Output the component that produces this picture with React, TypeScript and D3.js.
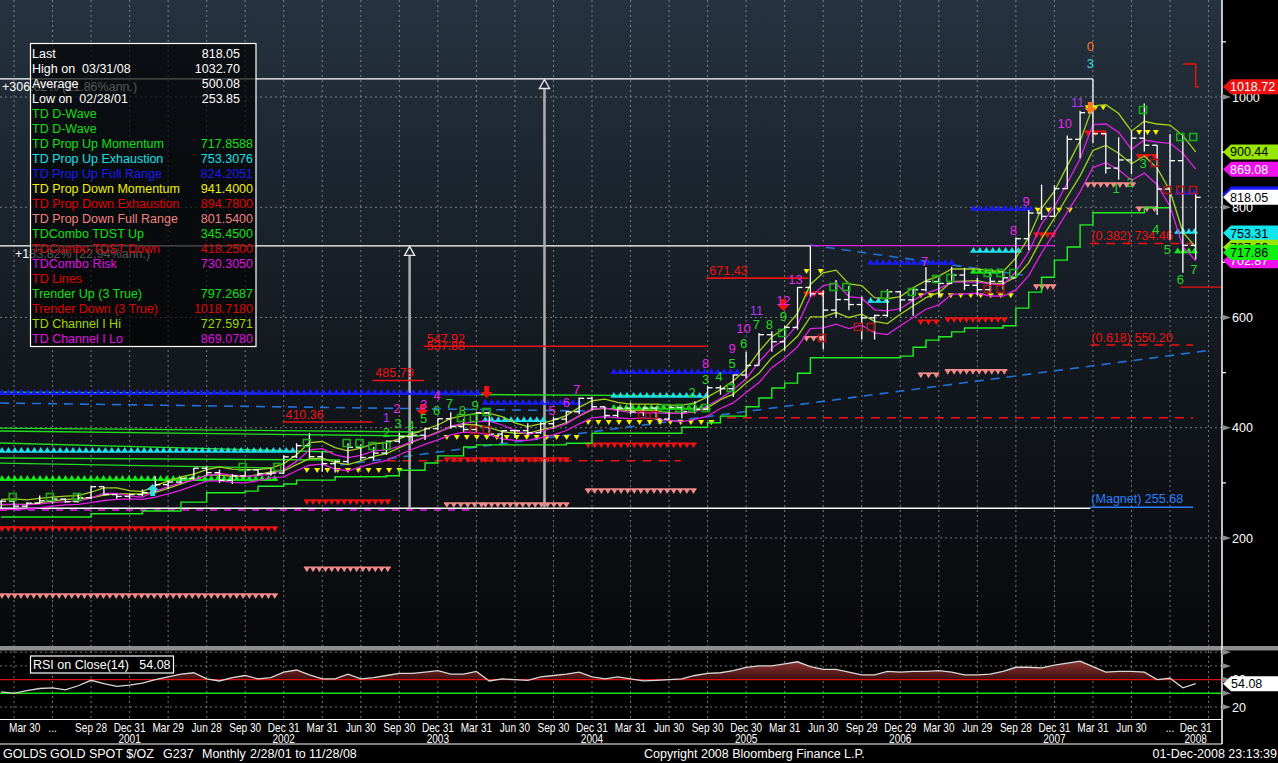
import React from "react";
import * as d3 from "d3";

// Monthly gold bars, index 0 = Feb 2001 ... index 93 = Nov 2008
const opens = [265.5, 266.7, 257.7, 263.2, 267.5, 270.6, 265.9, 273.0, 293.1, 278.8,
  275.5, 278.7, 282.3, 296.9, 301.5, 308.2, 326.6, 318.5, 304.7, 312.8,
  323.7, 316.9, 317.8, 347.2, 367.5, 347.5, 334.9, 338.8, 364.5, 346.0,
  354.0, 375.6, 384.0, 386.3, 398.4, 416.3, 402.2, 396.8, 427.1, 388.5,
  394.6, 394.8, 391.0, 407.3, 415.7, 428.9, 453.4, 438.0, 422.2, 435.5,
  428.7, 435.7, 415.7, 436.9, 429.5, 433.3, 472.5, 470.8, 495.7, 513.0,
  568.8, 556.0, 582.0, 654.5, 643.0, 613.5, 632.5, 623.5, 599.3, 603.8,
  646.7, 632.0, 650.5, 665.3, 661.8, 677.0, 658.5, 650.5, 665.5, 672.0,
  743.0, 789.5, 783.5, 833.8, 923.3, 971.5, 933.5, 871.0, 885.8, 925.4,
  912.5, 833.0, 884.5, 730.8];
const highs = [269.0, 269.5, 265.0, 277.0, 275.0, 271.5, 280.0, 294.0, 293.5, 280.0,
  280.0, 288.0, 312.0, 305.0, 310.0, 327.0, 330.0, 324.0, 316.0, 326.0,
  325.0, 326.0, 350.0, 372.0, 390.0, 356.0, 341.0, 372.0, 370.0, 365.0,
  377.0, 391.0, 393.0, 400.0, 417.0, 428.0, 416.0, 428.0, 429.0, 396.0,
  397.0, 408.0, 410.0, 419.0, 430.0, 455.0, 456.0, 438.5, 438.0, 446.0,
  438.0, 438.0, 441.0, 438.0, 448.0, 476.0, 477.0, 496.0, 538.0, 572.0,
  575.0, 585.0, 655.0, 730.0, 649.0, 668.0, 657.0, 638.0, 605.0, 651.0,
  648.0, 653.0, 691.0, 672.0, 692.0, 690.0, 672.0, 683.0, 684.0, 745.0,
  795.0, 841.0, 840.0, 930.0, 975.0, 1032.7, 935.0, 927.0, 938.0, 988.0,
  913.0, 933.0, 930.0, 825.0];
const lows = [253.85, 255.0, 255.5, 262.0, 262.5, 264.0, 265.0, 270.5, 277.0, 271.0,
  271.0, 276.0, 282.0, 289.0, 299.0, 306.0, 313.0, 300.0, 298.0, 311.0,
  312.0, 313.0, 316.0, 345.0, 345.0, 320.0, 319.0, 335.0, 341.0, 341.0,
  351.0, 372.0, 371.0, 378.0, 396.0, 398.0, 393.0, 392.0, 386.0, 372.0,
  382.0, 386.0, 389.0, 398.0, 409.0, 425.0, 432.0, 416.0, 419.0, 424.0,
  421.0, 414.0, 414.0, 417.0, 426.0, 432.0, 460.0, 456.0, 490.0, 513.0,
  538.0, 540.0, 578.0, 638.0, 542.0, 600.0, 613.0, 560.0, 560.0, 601.0,
  611.0, 603.0, 647.0, 636.0, 661.0, 650.0, 640.0, 645.0, 651.0, 672.0,
  722.0, 777.0, 783.0, 833.0, 889.0, 916.0, 861.0, 850.0, 860.0, 901.0,
  786.0, 741.0, 681.0, 705.0];
const closes = [266.7, 257.7, 263.2, 267.5, 270.6, 265.9, 273.0, 293.1, 278.8, 275.5,
  278.7, 282.3, 296.9, 301.5, 308.2, 326.6, 318.5, 304.7, 312.8, 323.7,
  316.9, 317.8, 347.2, 367.5, 347.5, 334.9, 338.8, 364.5, 346.0, 354.0,
  375.6, 384.0, 386.3, 398.4, 416.3, 402.2, 396.8, 427.1, 388.5, 394.6,
  394.8, 391.0, 407.3, 415.7, 428.9, 453.4, 438.0, 422.2, 435.5, 428.7,
  435.7, 415.7, 436.9, 429.5, 433.3, 472.5, 470.8, 495.7, 513.0, 568.8,
  556.0, 582.0, 654.5, 643.0, 613.5, 632.5, 623.5, 599.3, 603.8, 646.7,
  632.0, 650.5, 665.3, 661.8, 677.0, 658.5, 650.5, 665.5, 672.0, 743.0,
  789.5, 783.5, 833.8, 923.3, 971.5, 933.5, 871.0, 885.8, 925.4, 912.5,
  833.0, 884.5, 730.8, 818.05];

// TD Channel lines (yellow-green / magenta pairs)
const chanHiA = [270, 271, 269, 272, 274, 276, 277, 283, 291, 291,
  286, 284, 295, 303, 311, 316, 324, 329, 325, 324,
  324, 327, 335, 351, 373, 375, 364, 358, 363, 371,
  373, 380, 389, 397, 405, 417, 422, 426, 426, 420,
  409, 402, 407, 414, 422, 437, 449, 452, 446, 443,
  443, 443, 441, 441, 445, 456, 469, 485, 506, 538,
  565, 580, 608, 660, 681, 686, 661, 658, 636, 634,
  638, 654, 667, 675, 688, 688, 688, 685, 683, 708,
  745, 798, 829, 875, 920, 984, 986, 970, 938, 956,
  951, 949, 930, 900.44];
const chanHiB = [261, 261, 260, 262, 264, 266, 267, 273, 281, 281,
  276, 274, 285, 293, 300, 305, 313, 317, 314, 312,
  313, 316, 324, 339, 360, 362, 351, 346, 350, 358,
  360, 366, 375, 383, 391, 403, 408, 411, 412, 405,
  395, 388, 393, 400, 407, 422, 434, 436, 431, 428,
  427, 427, 426, 426, 429, 440, 453, 469, 489, 519,
  545, 560, 587, 637, 658, 662, 638, 635, 614, 612,
  616, 631, 644, 652, 664, 664, 664, 661, 659, 683,
  719, 770, 801, 844, 888, 950, 951, 936, 905, 922,
  918, 916, 898, 869.08];
const chanLoA = [260, 261, 261, 264, 267, 270, 271, 273, 278, 280,
  280, 280, 283, 290, 298, 306, 314, 314, 312, 311,
  315, 320, 322, 333, 344, 345, 337, 333, 340, 348,
  353, 364, 374, 383, 392, 401, 406, 405, 400, 393,
  390, 390, 396, 401, 409, 421, 433, 435, 433, 431,
  432, 431, 427, 426, 430, 436, 451, 461, 481, 499,
  527, 544, 566, 601, 601, 609, 600, 606, 593, 589,
  606, 621, 636, 645, 665, 666, 667, 662, 662, 673,
  699, 743, 780, 819, 857, 903, 912, 898, 879, 893,
  871, 830, 755, 727.6];
const chanLoB = [252, 252, 253, 255, 258, 260, 261, 264, 268, 270,
  271, 270, 274, 280, 287, 295, 303, 304, 301, 300,
  304, 309, 311, 322, 332, 334, 325, 322, 329, 336,
  341, 351, 361, 370, 378, 387, 392, 391, 387, 380,
  377, 377, 382, 387, 395, 407, 418, 420, 418, 416,
  418, 416, 413, 411, 415, 421, 435, 445, 464, 482,
  509, 526, 547, 580, 581, 588, 580, 586, 572, 569,
  585, 600, 615, 623, 642, 643, 644, 639, 639, 650,
  676, 717, 754, 791, 828, 872, 881, 868, 849, 862,
  841, 802, 729, 702.87];

// Trender up (step) and trender down
const trenderUp = [238, 238, 238, 238, 238, 238, 238, 244, 244, 244,
  244, 249, 249, 249, 265, 265, 282, 282, 282, 285,
  294, 294, 298, 305, 305, 305, 311, 311, 311, 311,
  313, 323, 323, 336, 349, 349, 365, 369, 369, 369,
  369, 369, 369, 369, 372, 372, 390, 390, 390, 390,
  390, 390, 390, 401, 401, 409, 421, 421, 438, 454,
  472, 481, 499, 527, 527, 527, 527, 527, 527, 527,
  530, 546, 559, 565, 574, 581, 581, 581, 585, 617,
  646, 673, 704, 728, 768, 790, 790, 790, 790, 799,
  799, 799, null, null];
const trenderDown = [[92, 1060], [93, 1018.72], [93.25, 1018.72]];

// RSI(14) on close
const rsi = [42, 40, 44, 47, 48, 45, 51, 59, 54, 50,
  52, 55, 60, 64, 68, 70, 61, 58, 63, 66,
  61, 63, 71, 74, 67, 61, 61, 68, 61, 63,
  66, 69, 69, 71, 73, 68, 68, 72, 58, 61,
  60, 59, 64, 66, 68, 71, 64, 61, 64, 61,
  58, 59, 60, 61, 66, 69, 70, 73, 78, 80,
  80, 83, 86, 79, 75, 75, 71, 67, 67, 72,
  71, 72, 72, 73, 71, 67, 67, 68, 72, 78,
  78, 77, 81, 84, 87, 79, 71, 72, 72, 71,
  60, 62, 48, 54.08];

// TD Lines (green), [fromMonth, fromPrice, toMonth, toPrice]
const tdLines = [[-0.1, 464.8, 54.4, 458], [-0.1, 399.5, 32.6, 392.3], [-0.1, 394.1, 32.6, 385],
  [-0.1, 372.3, 25.8, 356], [-0.1, 345.1, 26.4, 341.5], [-0.1, 336, 21.2, 327]];
const blueDashed = [[-0.1, 444.9, 45.6, 430.4], [26.4, 332.4, 94.3, 541], [62.97, 731.5, 79.55, 677.1]];

// red TD level lines [from, to, price, label]
const redLevels = [[21.9, 28.9, 410.36, "410.36"], [28.9, 32.9, 485.79, "485.79"],
  [32.9, 54.9, 547.92, "547.92"], [54.9, 62.85, 671.43, "671.43"]];
const redDashed = [[30, 52.9, 340], [56.5, 92.8, 418.25], [84.8, 92.8, 734.46], [84.8, 92.8, 550.2]];

// TD propulsion projection rows [from, to, price]
const blueRows = [[-0.1, 37.1, 461], [37.7, 45, 443], [47.7, 57.3, 499], [67.7, 74, 697], [75.7, 80.1, 795], [91.6, 92.9, 824.2]];
const cyanRows = [[-0.1, 22.7, 356], [37.7, 42.2, 412], [47.7, 54.9, 455.8], [67.7, 68.9, 628], [75.7, 79.2, 719], [91.6, 92.9, 753.31]];
const greenRows = [[-0.1, 21.3, 305], [47.7, 55, 434], [75.7, 77.6, 681], [91.6, 92.9, 717.86]];
const redRows = [[-0.1, 21.3, 220], [23.8, 30.1, 269], [34.7, 37.4, 345], [37.7, 44, 345], [45.7, 53.9, 372],
  [62.7, 63.9, 646], [71.6, 72.8, 595], [73.7, 78.1, 599], [80.6, 81.9, 753], [84.6, 85.8, 938], [88.6, 89.8, 895]];
const salmonRows = [[-0.1, 21.3, 98.4], [23.8, 30.1, 147], [34.7, 37.4, 263.5], [37.7, 44, 263.5], [45.7, 53.9, 289],
  [62.7, 63.8, 565], [71.6, 72.8, 499], [73.7, 78.1, 505], [80.6, 81.9, 659], [84.6, 88.1, 844], [88.6, 89.8, 800]];
const yellowRows = [[23.8, 31, 327], [34.7, 44.8, 387], [45.7, 55.3, 414], [62.7, 63.8, 688],
  [71.6, 78.6, 644], [80.7, 83.2, 799], [84.6, 85.8, 985], [88.6, 89.9, 940]];

// TD sequential / combo counts [month, price, text]
const magentaCounts = [[30.0, 419.5, "1"], [30.8, 435.8, "2"], [32.9, 443, "3"], [33.95, 459.4, "4"], [42.9, 432.2, "5"],
  [44.0, 445, "6"], [44.8, 470.3, "7"], [54.85, 517.5, "8"], [56.9, 544.7, "9"], [57.8, 581, "10"], [58.8, 613.6, "11"],
  [60.9, 631.7, "12"], [61.85, 669.8, "13"], [71.9, 702.5, "7"], [78.8, 758.7, "8"], [79.8, 811.3, "9"],
  [82.8, 952.8, "10"], [83.8, 990.9, "11"]];
const greenCounts = [[30.0, 392.3, "2"], [30.9, 408.6, "3"], [31.9, 405, "4"], [32.9, 417.7, "5"], [33.9, 432.2, "6"],
  [34.9, 444.9, "7"], [35.9, 432.2, "8"], [36.9, 441.3, "9"], [53.8, 464.9, "2"], [54.85, 488.4, "3"], [55.9, 493.9, "4"],
  [56.9, 517.5, "5"], [57.8, 553.7, "6"], [58.8, 588.2, "7"], [59.8, 588.2, "8"], [60.9, 602.7, "9"],
  [86.8, 834.9, "1"], [87.9, 845.8, "2"], [88.9, 880.3, "3"], [89.9, 760.5, "4"], [90.8, 724.3, "5"],
  [91.8, 669.8, "6"], [92.85, 688, "7"]];
const waveLabels = [[84.8, 1092.5, "0", "#ff7a1a"], [84.8, 1061.7, "3", "#33dddd"]];
const greenSquares = [[0.9, 274.4], [3.8, 274.4], [5.9, 274.4], [18.8, 328.8], [21.5, 328.8], [23.8, 372.3], [26.9, 372.3],
  [27.9, 372.3], [28.9, 366.9], [30, 366.9], [35.8, 417.7], [36.8, 417.7], [37.8, 428.6], [51.7, 435.8], [52.8, 435.8],
  [53.8, 435.8], [54.85, 435.8], [56.8, 472.1], [60.8, 571.9], [64.8, 655.3], [65.8, 655.3], [68.8, 640.8], [70.9, 646.3],
  [72.8, 669.8], [73.9, 671.7], [76.8, 680.7], [77.8, 680.7], [78.8, 680.7], [88.9, 976.4], [91.8, 927.4], [92.8, 927.4]];
const redSquares = [[36.8, 395.9], [37.8, 395.9], [49.9, 423.1], [50.8, 423.1], [63.9, 562.8], [66.7, 582.8], [67.7, 582.8],
  [76.8, 651.7], [77.8, 651.7], [89.8, 880.3], [90.8, 831.3], [91.8, 831.3], [92.8, 831.3]];
const arrows = [[11.8, 287, 1, "#33dddd"], [32.8, 432, -1, "#ee1111"], [37.8, 465, -1, "#ee1111"],
  [60.9, 622.7, -1, "#ee1111"], [84.8, 980, -1, "#ff7a1a"]];

// axis
const priceTicks = [200, 400, 600, 800, 1000];
const minorTicks = [300, 500, 700, 900, 1100];
const tickMonths = [1, 4, 7, 10, 13, 16, 19, 22, 25, 28, 31, 34, 37, 40, 43, 46, 49, 52, 55, 58, 61, 64, 67, 70, 73, 76, 79, 82, 85, 88, 91, 93];
const tickLabels = ["Mar 30", "...", "Sep 28", "Dec 31", "Mar 29", "Jun 28", "Sep 30", "Dec 31", "Mar 31", "Jun 30", "Sep 30",
  "Dec 31", "Mar 31", "Jun 30", "Sep 30", "Dec 31", "Mar 31", "Jun 30", "Sep 30", "Dec 30", "Mar 31", "Jun 30", "Sep 29",
  "Dec 29", "Mar 30", "Jun 29", "Sep 28", "Dec 31", "Mar 31", "Jun 30", "...", "Dec 31"];
const yearMonths = [10, 22, 34, 46, 58, 70, 82, 93];
const yearLabels = ["2001", "2002", "2003", "2004", "2005", "2006", "2007", "2008"];

const legendLabels = ["Last", "High on  03/31/08", "Average", "Low on  02/28/01", "TD D-Wave", "TD D-Wave",
  "TD Prop Up Momentum", "TD Prop Up Exhaustion", "TD Prop Up Full Range", "TD Prop Down Momentum",
  "TD Prop Down Exhaustion", "TD Prop Down Full Range", "TDCombo TDST Up", "TDCombo TDST Down", "TDCombo Risk",
  "TD Lines", "Trender Up (3 True)", "Trender Down (3 True)", "TD Channel I Hi", "TD Channel I Lo"];
const legendValues = ["818.05", "1032.70", "500.08", "253.85", "", "", "717.8588", "753.3076", "824.2051", "941.4000",
  "894.7800", "801.5400", "345.4500", "418.2500", "730.3050", "", "797.2687", "1018.7180", "727.5971", "869.0780"];
const legendColors = ["#fff", "#fff", "#fff", "#fff", "#11dd11", "#11dd11", "#11e011", "#11e0e8", "#1a1aee", "#f0f000",
  "#e00000", "#f08080", "#11e011", "#e00000", "#e011e0", "#e00000", "#11e011", "#e00000", "#a0d800", "#e011e0"];

const tags = [[1018.72, "#ee1111", "#fff"], [900.44, "#99e600", "#000"], [869.08, "#ee11ee", "#fff"],
  [824.21, "#1515ff", "#fff"], [818.05, "#ffffff", "#000"], [753.31, "#11e5ee", "#000"], [727.6, "#99e600", "#000"],
  [702.87, "#ee11ee", "#fff"], [717.86, "#11ee11", "#000"]];

const FONT = "'Liberation Sans', Arial, Helvetica, sans-serif";

const C = {
  blue: "#1a1aff", cyan: "#1ee0ee", green: "#11ee11", red: "#ee1111", salmon: "#f28a8a", yellow: "#f5ef00",
  yg: "#a2d21c", mag: "#e41ee4", dash: "#1f72d8",
};

export default function App() {
  const RIGHT = 1222;
  const MAIN_B = 646;
  const x = d3.scaleLinear().domain([0, 93]).range([1.15, 1195.7]);
  const y = d3.scaleLinear().domain([200, 1000]).range([538, 97]);
  const yr = d3.scaleLinear().domain([0, 100]).range([720.7, 652.2]);

  const series = (vals) =>
    d3.line().defined((d) => d != null).x((_, i) => x(i)).y((d) => y(d))(vals) || "";
  const trUp = d3.line().defined((d) => d != null).curve(d3.curveStepAfter).x((_, i) => x(i)).y((d) => y(d))(trenderUp);
  const trDn = d3.line().curve(d3.curveStepAfter).x((d) => x(d[0])).y((d) => y(d[1]))(trenderDown);
  const rsiLine = d3.line().x((_, i) => x(i)).y((d) => yr(d))(rsi);
  const rsiArea = d3.area().x((_, i) => x(i)).y0(yr(60)).y1((d) => yr(Math.max(d, 60)))(rsi);

  const hline = (i0, i1, p, color, w = 1.2, dash) => (
    <line x1={Math.max(0, x(i0))} x2={x(i1)} y1={y(p)} y2={y(p)} stroke={color} strokeWidth={w} strokeDasharray={dash} />
  );

  const triRow = (r, color, up, step, base, key) => {
    const x0 = Math.max(2, x(r[0]));
    const x1 = x(r[1]);
    const yy = y(r[2]);
    const n = Math.max(1, Math.round((x1 - x0) / step));
    const d = d3.range(n + 1).map((k) => {
      const px = x0 + (k * (x1 - x0)) / n;
      return up
        ? `M${px - 3},${yy}L${px + 3},${yy}L${px},${yy - 5}Z`
        : `M${px - 3},${yy}L${px + 3},${yy}L${px},${yy + 5}Z`;
    }).join("");
    return (
      <g key={key}>
        {base && <line x1={x0 - 3} x2={x1 + 3} y1={yy} y2={yy} stroke={color} strokeWidth={1.6} />}
        <path d={d} fill={color} />
      </g>
    );
  };

  // narrow axis text (condensed horizontally like the terminal font)
  const narrow = (px, py, label, anchor, key, size = 12) => (
    <text key={key} transform={`translate(${px},${py}) scale(0.84,1)`} fill="#fff" fontSize={size} textAnchor={anchor}>{label}</text>
  );

  const quarterGrid = d3.range(1, 95, 3);

  return (
    <svg width={1278} height={763} style={{ position: "fixed", left: 0, top: 0, background: "#000" }} fontFamily={FONT}>
      <defs>
        <linearGradient id="bg" x1="0" y1="0" x2="0" y2="1">
          <stop offset="0" stopColor="#25323f" />
          <stop offset="0.5" stopColor="#151b22" />
          <stop offset="1" stopColor="#07080a" />
        </linearGradient>
        <linearGradient id="rsiFill" gradientUnits="userSpaceOnUse" x1="0" y1="658" x2="0" y2="680">
          <stop offset="0" stopColor="#9a3a3a" />
          <stop offset="1" stopColor="#3a0d0d" />
        </linearGradient>
        <clipPath id="mainClip"><rect x={0} y={0} width={RIGHT} height={MAIN_B} /></clipPath>
        <clipPath id="rsiClip"><rect x={0} y={651} width={RIGHT} height={68} /></clipPath>
      </defs>

      <rect x={0} y={0} width={RIGHT} height={MAIN_B} fill="url(#bg)" />

      <g clipPath="url(#mainClip)">
        {/* grid */}
        {quarterGrid.map((m) => (
          <line key={"vg" + m} x1={x(m)} x2={x(m)} y1={0} y2={MAIN_B} stroke="#9a9a9a" strokeWidth={1} strokeDasharray="2,3" opacity={0.75} />
        ))}
        {priceTicks.map((p) => (
          <line key={"hg" + p} x1={0} x2={RIGHT} y1={y(p)} y2={y(p)} stroke="#9a9a9a" strokeWidth={1} strokeDasharray="2,3" opacity={0.75} />
        ))}

        {/* dashed trend lines */}
        {blueDashed.map((l, k) => (
          <line key={"bd" + k} x1={Math.max(0, x(l[0]))} y1={y(l[1])} x2={x(l[2])} y2={y(l[3])} stroke={C.dash} strokeWidth={1.6} strokeDasharray="9,7" />
        ))}
        {redDashed.map((l, k) => <g key={"rd" + k}>{hline(l[0], l[1], l[2], C.red, 1.5, "9,7")}</g>)}

        {/* measurement lines */}
        {hline(-0.1, 85, 1032.7, "#fff", 1.2)}
        {hline(-0.1, 63, 730, "#fff", 1.2)}
        {hline(63, 82.05, 730.3, C.mag, 1.4)}
        {hline(-0.1, 84.8, 253.85, "#fff", 1.4)}
        {hline(-0.1, 36.5, 250.8, C.mag, 1.4, "7,7")}
        {hline(84.8, 92.8, 255.68, "#2a80ff", 1.6)}
        {hline(91.8, 95, 655, C.red, 1.3)}
        {[[31.8, 730], [42.3, 1032.7]].map((v, k) => (
          <g key={"gv" + k}>
            <line x1={x(v[0])} x2={x(v[0])} y1={y(253.85)} y2={y(v[1]) + 8} stroke="#aaaaaa" strokeWidth={2.6} />
            <path d={`M${x(v[0])},${y(v[1]) + 0.5}L${x(v[0]) + 5},${y(v[1]) + 9.5}L${x(v[0]) - 5},${y(v[1]) + 9.5}Z`} fill="#1c2530" stroke="#e6e6e6" strokeWidth={1.4} />
          </g>
        ))}

        {/* red TD levels */}
        {redLevels.map((l, k) => (
          <g key={"rl" + k}>
            {hline(l[0], l[1], l[2], C.red, 1.6)}
            <text x={x(l[0]) + 3} y={y(l[2]) - 3.5} fill={C.red} fontSize={12.5}>{l[3]}</text>
          </g>
        ))}
        <text x={x(32.9) + 3} y={y(547.92) + 4} fill={C.red} fontSize={12.5}>537.88</text>
        <text x={x(84.8) + 1} y={y(734.46) - 3} fill={C.red} fontSize={12.5} style={{ whiteSpace: "pre" }}>(0.382) 734.46</text>
        <text x={x(84.8) + 1} y={y(550.2) - 3} fill={C.red} fontSize={12.5} style={{ whiteSpace: "pre" }}>(0.618) 550.20</text>
        <text x={x(84.8) + 1} y={y(255.68) - 4} fill="#2a80ff" fontSize={12.5} style={{ whiteSpace: "pre" }}>(Magnet) 255.68</text>

        {/* TD lines */}
        {tdLines.map((l, k) => (
          <line key={"td" + k} x1={Math.max(0, x(l[0]))} y1={y(l[1])} x2={x(l[2])} y2={y(l[3])} stroke="#22dd22" strokeWidth={1.3} />
        ))}

        {/* propulsion rows */}
        {blueRows.map((r, k) => triRow(r, C.blue, true, 6.4, true, "b" + k))}
        {cyanRows.map((r, k) => triRow(r, C.cyan, true, 6.4, true, "c" + k))}
        {greenRows.map((r, k) => triRow(r, C.green, true, 6.4, true, "g" + k))}
        {redRows.map((r, k) => triRow(r, C.red, false, 6.4, true, "r" + k))}
        {salmonRows.map((r, k) => triRow(r, C.salmon, false, 6.4, true, "s" + k))}
        {yellowRows.map((r, k) => triRow(r, C.yellow, false, 10, false, "y" + k))}

        {/* trender */}
        <path d={trUp} fill="none" stroke="#22f022" strokeWidth={1.4} />
        <path d={trDn} fill="none" stroke={C.red} strokeWidth={1.4} />

        {/* channels */}
        <path d={series(chanHiA)} fill="none" stroke={C.yg} strokeWidth={1.3} />
        <path d={series(chanLoA)} fill="none" stroke={C.yg} strokeWidth={1.3} />
        <path d={series(chanHiB)} fill="none" stroke={C.mag} strokeWidth={1.3} />
        <path d={series(chanLoB)} fill="none" stroke={C.mag} strokeWidth={1.3} />

        {/* price bars */}
        {highs.map((h, i) => (
          <g key={"bar" + i} stroke="#fff" strokeWidth={1.3}>
            <line x1={x(i)} x2={x(i)} y1={y(h)} y2={y(lows[i])} />
            <line x1={x(i) - 5} x2={x(i)} y1={y(opens[i])} y2={y(opens[i])} />
            <line x1={x(i)} x2={x(i) + 5} y1={y(closes[i])} y2={y(closes[i])} />
          </g>
        ))}

        {/* setup squares */}
        {greenSquares.map((s, k) => (
          <rect key={"gs" + k} x={x(s[0]) - 3.5} y={y(s[1]) - 3.5} width={7} height={7} fill="none" stroke="#16b016" strokeWidth={1.6} />
        ))}
        {redSquares.map((s, k) => (
          <rect key={"rs" + k} x={x(s[0]) - 3.5} y={y(s[1]) - 3.5} width={7} height={7} fill="none" stroke="#a81818" strokeWidth={1.6} />
        ))}

        {/* arrows */}
        {arrows.map((a, k) => {
          const cx = x(a[0]);
          const cy = y(a[1]);
          const s = a[2];
          const d = `M${cx},${cy - 6 * s}L${cx + 6},${cy}L${cx + 2.5},${cy}L${cx + 2.5},${cy + 6 * s}L${cx - 2.5},${cy + 6 * s}L${cx - 2.5},${cy}L${cx - 6},${cy}Z`;
          return <path key={"ar" + k} d={d} fill={a[3]} />;
        })}

        {/* counts */}
        {magentaCounts.map((c, k) => (
          <text key={"mc" + k} x={x(c[0])} y={y(c[1])} dy="0.35em" textAnchor="middle" fontSize={13} fill={c[2] === "1" || c[2] === "11" ? "#a838f0" : "#e828e8"}>{c[2]}</text>
        ))}
        {greenCounts.map((c, k) => (
          <text key={"gc" + k} x={x(c[0])} y={y(c[1])} dy="0.35em" textAnchor="middle" fontSize={13} fill="#22d822">{c[2]}</text>
        ))}
        {waveLabels.map((c, k) => (
          <text key={"wl" + k} x={x(c[0])} y={y(c[1])} dy="0.35em" textAnchor="middle" fontSize={13} fill={c[3]}>{c[2]}</text>
        ))}

        {/* percent labels */}
        <text x={2} y={y(1032.7) + 12} fill="#fff" fontSize={12.5}>+306.82% (21.86%ann.)</text>
        <text x={15} y={y(730) + 12} fill="#fff" fontSize={12.5}>+183.82% (22.94%ann.)</text>

        {/* legend */}
        <rect x={30.5} y={43.5} width={225.5} height={303} fill="#000" fillOpacity={0.68} stroke="#fff" strokeWidth={1.2} />
        {legendLabels.map((l, k) => (
          <g key={"lg" + k}>
            <text x={32} y={57.5 + 15 * k} fill={legendColors[k]} fontSize={12.5} style={{ whiteSpace: "pre" }}>{l}</text>
            <text x={k < 4 ? 240 : 253} y={57.5 + 15 * k} fill={legendColors[k]} fontSize={12.5} textAnchor="end">{legendValues[k]}</text>
          </g>
        ))}
      </g>

      {/* separator */}
      <rect x={0} y={646} width={1278} height={4.5} fill="#8e8e8e" />

      {/* RSI panel */}
      <rect x={0} y={651} width={RIGHT} height={68} fill="#000" />
      <g clipPath="url(#rsiClip)">
        {quarterGrid.map((m) => (
          <line key={"rvg" + m} x1={x(m)} x2={x(m)} y1={651} y2={719} stroke="#9a9a9a" strokeDasharray="2,3" opacity={0.75} />
        ))}
        {[100, 80, 20].map((v) => (
          <line key={"rhg" + v} x1={0} x2={RIGHT} y1={yr(v)} y2={yr(v)} stroke="#9a9a9a" strokeDasharray="2,3" opacity={0.75} />
        ))}
        <path d={rsiArea} fill="url(#rsiFill)" />
        <line x1={0} x2={RIGHT} y1={yr(60)} y2={yr(60)} stroke="#e01010" strokeWidth={1.3} />
        <line x1={0} x2={RIGHT} y1={yr(40)} y2={yr(40)} stroke="#11e011" strokeWidth={1.5} />
        <path d={rsiLine} fill="none" stroke="#d8d8d8" strokeWidth={1.3} />
        <rect x={30.5} y={656} width={143} height={17} fill="#000" stroke="#fff" strokeWidth={1.2} />
        <text x={33} y={669} fill="#fff" fontSize={12.5} style={{ whiteSpace: "pre" }}>RSI on Close(14)   54.08</text>
      </g>

      {/* frame lines */}
      <line x1={RIGHT} x2={RIGHT} y1={0} y2={744} stroke="#fff" strokeWidth={1.5} />
      <line x1={0} x2={RIGHT} y1={719.5} y2={719.5} stroke="#fff" strokeWidth={1.2} />
      <line x1={0} x2={RIGHT} y1={744} y2={744} stroke="#fff" strokeWidth={1.2} />

      {/* right price axis */}
      {minorTicks.map((p) => (
        <line key={"mt" + p} x1={RIGHT} x2={RIGHT + 4} y1={y(p)} y2={y(p)} stroke="#fff" strokeWidth={1.2} />
      ))}
      {priceTicks.map((p) => (
        <g key={"pt" + p}>
          <path d={`M${RIGHT},${y(p) - 3}L${RIGHT + 9},${y(p)}L${RIGHT},${y(p) + 3}Z`} fill="#8a8a8a" />
          <text x={1232} y={y(p) + 4.5} fill="#fff" fontSize={12.5}>{p}</text>
        </g>
      ))}
      {tags.map((t, k) => {
        const yy = y(t[0]);
        return (
          <g key={"tag" + k}>
            <path d={`M${RIGHT + 1},${yy}L${RIGHT + 9},${yy - 7.5}L1278,${yy - 7.5}L1278,${yy + 7.5}L${RIGHT + 9},${yy + 7.5}Z`} fill={t[1]} />
            <text x={1230} y={yy + 4.6} fill={t[2]} fontSize={12.5}>{t[0].toFixed(2)}</text>
          </g>
        );
      })}

      {/* right RSI axis */}
      {[100, 80, 60, 40, 20].map((v) => (
        <path key={"ra" + v} d={`M${RIGHT},${yr(v) - 3}L${RIGHT + 9},${yr(v)}L${RIGHT},${yr(v) + 3}Z`} fill="#8a8a8a" />
      ))}
      <text x={1232} y={yr(60) + 4.5} fill="#fff" fontSize={12.5}>60</text>
      <text x={1232} y={yr(20) + 4.5} fill="#fff" fontSize={12.5}>20</text>
      <path d={`M${RIGHT + 1},${yr(54.08)}L${RIGHT + 9},${yr(54.08) - 7.5}L1278,${yr(54.08) - 7.5}L1278,${yr(54.08) + 7.5}L${RIGHT + 9},${yr(54.08) + 7.5}Z`} fill="#fff" />
      <text x={1231} y={yr(54.08) + 4.6} fill="#000" fontSize={12.5}>54.08</text>

      {/* time axis */}
      {tickMonths.map((m, k) => narrow(k === 0 ? 9 : x(m), 731.5, tickLabels[k], k === 0 ? "start" : "middle", "xt" + k))}
      {yearMonths.map((m, k) => narrow(x(m), 742.5, yearLabels[k], "middle", "yr" + k))}

      {/* footer */}
      <g fill="#fff" fontSize={12.5}>
        <text x={3} y={757.5}>GOLDS</text>
        <text x={50} y={757.5}>GOLD SPOT $/OZ</text>
        <text x={163} y={757.5}>G237</text>
        <text x={202} y={757.5}>Monthly</text>
        <text x={250} y={757.5}>2/28/01 to 11/28/08</text>
        <text x={644} y={757.5}>Copyright 2008 Bloomberg Finance L.P.</text>
        <text x={1277} y={757.5} textAnchor="end">01-Dec-2008 23:13:39</text>
      </g>
    </svg>
  );
}
